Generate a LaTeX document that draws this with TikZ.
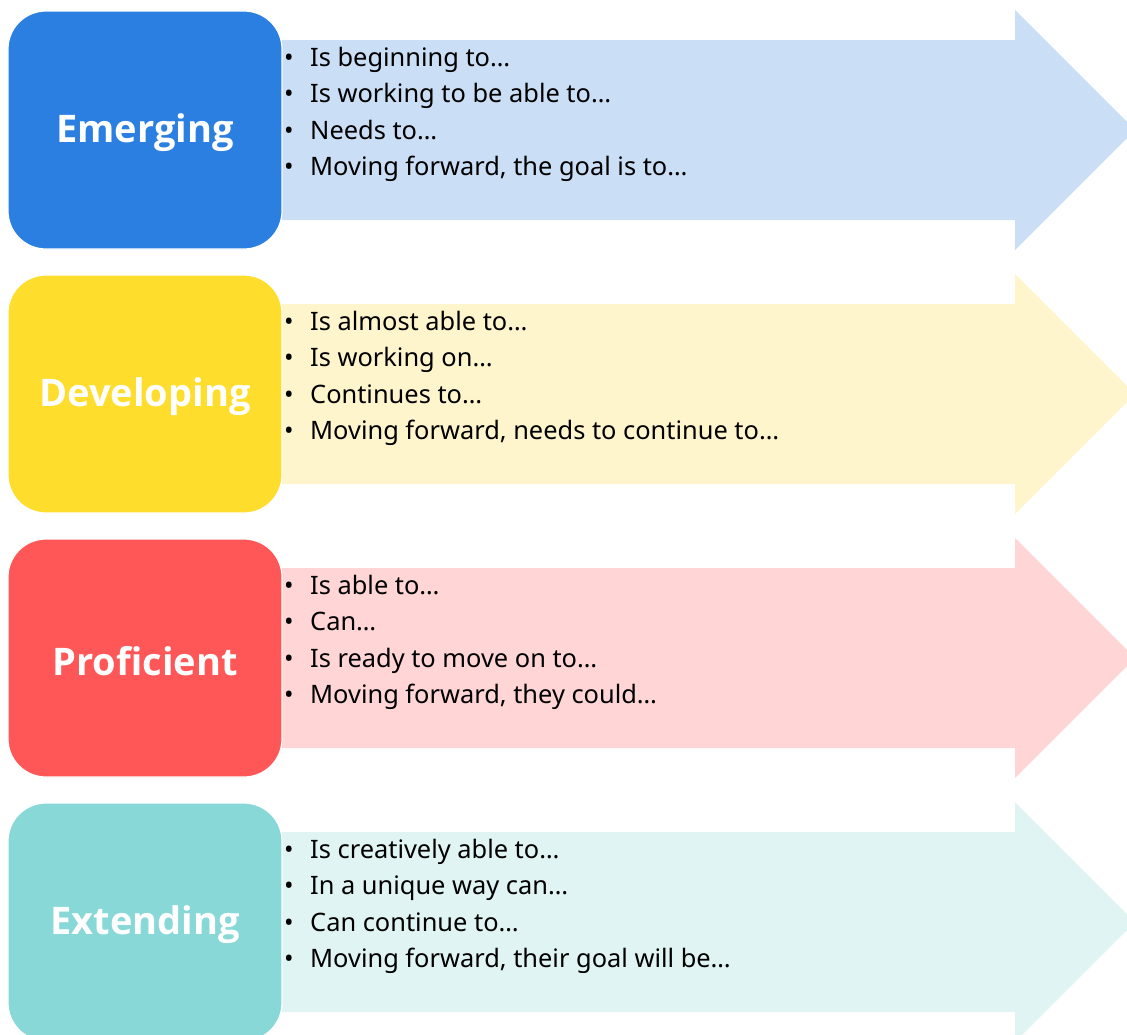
\documentclass[tikz,border=0pt]{standalone}
\usepackage{fontspec}
\setmainfont{Noto Sans}
\newfontfamily\labfont{Open Sans}
\definecolor{emBox}{HTML}{2A7FE0}
\definecolor{emBody}{HTML}{CADEF5}
\definecolor{deBox}{HTML}{FFDD2D}
\definecolor{deBody}{HTML}{FFF5CC}
\definecolor{prBox}{HTML}{FF5757}
\definecolor{prBody}{HTML}{FFD5D5}
\definecolor{exBox}{HTML}{89D8D8}
\definecolor{exBody}{HTML}{E0F4F3}
\tikzset{
  levelbox/.style={draw=white, line width=1.2pt, rounded corners=38pt},
  levellabel/.style={text=white, font=\labfont\fontsize{38}{44}\selectfont\bfseries, inner sep=0pt},
  itemtext/.style={anchor=base west, inner sep=0pt, font=\fontsize{25.4}{30}\selectfont, text=black},
}
\begin{document}
\begin{tikzpicture}[x=1pt,y=-1pt]
\useasboundingbox (0,0) rectangle (1127,1034);
\foreach \k/\bx/\bd/\lab/\ia/\ib/\ic/\id in {
  0/emBox/emBody/Emerging/{Is beginning to\ldots}/{Is working to be able to\ldots}/{Needs to\ldots}/{Moving forward, the goal is to\ldots},
  1/deBox/deBody/Developing/{Is almost able to\ldots}/{Is working on\ldots}/{Continues to\ldots}/{Moving forward, needs to continue to\ldots},
  2/prBox/prBody/Proficient/{Is able to\ldots}/{Can\ldots}/{Is ready to move on to\ldots}/{Moving forward, they could\ldots},
  3/exBox/exBody/Extending/{Is creatively able to\ldots}/{In a unique way can\ldots}/{Can continue to\ldots}/{Moving forward, their goal will be\ldots}}{
  \pgfmathsetmacro{\t}{11+264*\k}
  % arrow
  \fill[\bd] (282,\t+29) -- (1015,\t+29) -- (1015,\t-1) -- (1135,\t+119)
     -- (1015,\t+239) -- (1015,\t+209) -- (282,\t+209) -- cycle;
  % box
  \draw[levelbox, fill=\bx] (8,\t) rectangle (282,\t+238);
  \node[levellabel] (lab\k) at (145,\t+122) {\lab};
  \foreach \j/\txt in {0/\ia,1/\ib,2/\ic,3/\id}{
    \node[itemtext] (bul\k\j) at (284,\t+55+36.5*\j) {•};
    \node[itemtext] (item\k\j) at (310,\t+55+36.5*\j) {\txt};
  }
}
\end{tikzpicture}
\end{document}
